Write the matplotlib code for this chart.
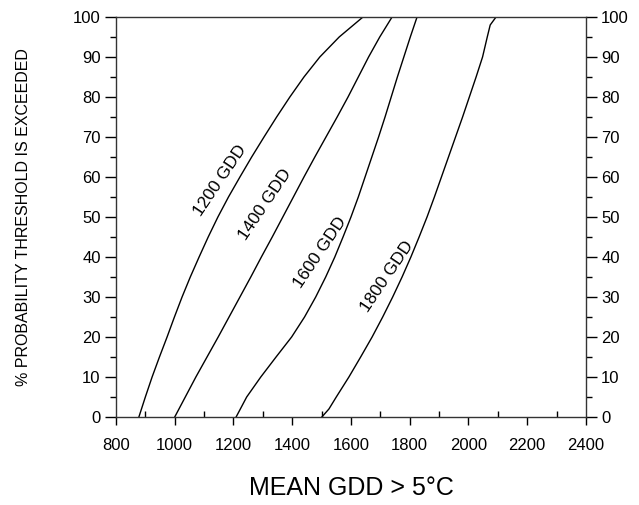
import matplotlib.pyplot as plt
from matplotlib.ticker import MultipleLocator

plt.rcParams['font.family'] = ['Liberation Sans', 'DejaVu Sans']

# % probability levels and GDD values
prob = [0, 5, 10, 15, 20, 25, 30, 35, 40, 45, 50, 55, 60, 65, 70, 75, 80, 85, 90, 95, 100]
gdd_1200 = [878, 900, 923, 948, 974, 999, 1025, 1053, 1083, 1114, 1147, 1183, 1222,
            1262, 1304, 1347, 1392, 1440, 1494, 1560, 1641]
gdd_1400 = [1000, 1036, 1072, 1110, 1148, 1185, 1222, 1259, 1295, 1332, 1368, 1404,
            1440, 1477, 1515, 1553, 1590, 1625, 1660, 1698, 1740]
gdd_1600 = [1209, 1245, 1293, 1345, 1398, 1442, 1480, 1514, 1545, 1573, 1600, 1625,
            1648, 1671, 1694, 1716, 1737, 1758, 1780, 1802, 1825]
prob_1800 = [0, 2, 5, 10, 15, 20, 25, 30, 35, 40, 45, 50, 55, 60, 65, 70, 75, 80, 85,
             90, 95, 98, 100]
gdd_1800 = [1501, 1525, 1550, 1593, 1633, 1672, 1708, 1742, 1774, 1804, 1832, 1859,
            1884, 1908, 1932, 1956, 1980, 2003, 2026, 2048, 2064, 2074, 2094]

labels = ['1200 GDD', '1400 GDD', '1600 GDD', '1800 GDD']
label_x = [1154, 1307, 1494, 1722]
label_y = [59, 53, 41, 35]

fig = plt.figure(figsize=(6.39, 5.05), dpi=100)
ax = fig.add_axes([0.1815, 0.1743, 0.7355, 0.7921])

lw = 1.0
ax.plot(gdd_1200, prob, color='black', lw=lw)
ax.plot(gdd_1400, prob, color='black', lw=lw)
ax.plot(gdd_1600, prob, color='black', lw=lw)
ax.plot(gdd_1800, prob_1800, color='black', lw=lw)

for t, x, y in zip(labels, label_x, label_y):
    ax.text(x, y, t, rotation=56, ha='center', va='center', fontsize=12.5)

ax.set_xlim(800, 2400)
ax.set_ylim(0, 100)
ax.xaxis.set_major_locator(MultipleLocator(200))
ax.xaxis.set_minor_locator(MultipleLocator(100))
ax.yaxis.set_major_locator(MultipleLocator(10))
ax.yaxis.set_minor_locator(MultipleLocator(5))

ax.tick_params(axis='x', which='major', direction='out', length=6, width=1, pad=9, labelsize=12)
ax.tick_params(axis='x', which='minor', direction='in', length=4, width=1)
ax.tick_params(axis='y', which='major', direction='out', length=8, width=1, pad=3,
               labelsize=12, left=True, right=True, labelleft=True, labelright=True)
ax.tick_params(axis='y', which='minor', direction='out', length=4, width=1, left=True, right=True)

for s in ax.spines.values():
    s.set_linewidth(1.0)
    s.set_color('#333333')

ax.set_xlabel('MEAN GDD > 5°C', fontsize=18, labelpad=17)
ax.set_ylabel('% PROBABILITY THRESHOLD IS EXCEEDED', fontsize=11.5, labelpad=30)

fig.savefig('out.png', dpi=100)
